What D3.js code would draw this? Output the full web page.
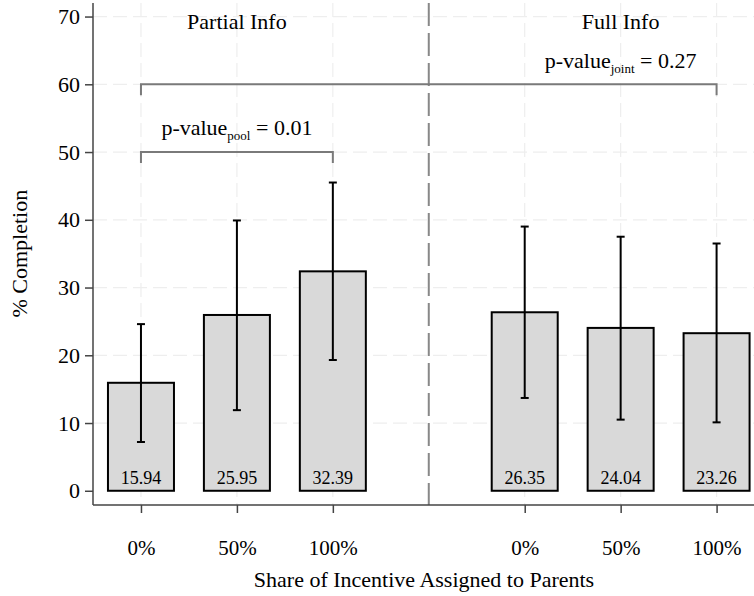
<!DOCTYPE html>
<html lang="en">
<head>
<meta charset="UTF-8">
<title>% Completion by incentive share</title>
<script src="https://cdn.jsdelivr.net/npm/d3@7"></script>
<style>
  body { margin: 0; background: #fff; }
  text { font-family: "Liberation Serif", "Times New Roman", serif; fill: #000; }
</style>
</head>
<body>
<svg width="754" height="596" id="mainsvg"></svg>
<script>
  // data
  const groups = ['Partial Info', 'Full Info'];
  const shares = ['0%', '50%', '100%', '0%', '50%', '100%'];
  const slots = [1, 2, 3, 5, 6, 7];
  const means = [15.94, 25.95, 32.39, 26.35, 24.04, 23.26];
  const lows = [7.2, 11.9, 19.3, 13.7, 10.5, 10.1];
  const highs = [24.6, 39.9, 45.5, 39.0, 37.5, 36.5];
  const yTicks = [0, 10, 20, 30, 40, 50, 60, 70];

  const svg = d3.select('#mainsvg');
  const width = +svg.attr('width');
  const height = +svg.attr('height');
  const margin = { top: 3, right: 0, bottom: 91, left: 93 };
  const innerWidth = width - margin.left - margin.right;
  const innerHeight = height - margin.top - margin.bottom;

  const xScale = d3.scaleLinear().domain([0.5, 7.39]).range([0, innerWidth]);
  const yScale = d3.scaleLinear().domain([-2.1, 72]).range([innerHeight, 0]);

  const g = svg.append('g')
    .attr('transform', `translate(${margin.left},${margin.top})`);

  // grid
  g.append('g').selectAll('line').data(yTicks.slice(1)).join('line')
    .attr('x1', 0).attr('x2', innerWidth)
    .attr('y1', d => yScale(d)).attr('y2', d => yScale(d))
    .attr('stroke', '#eeeeee').attr('stroke-width', 1.2)
    .attr('stroke-dasharray', '14,6');
  g.append('g').selectAll('line').data(slots).join('line')
    .attr('x1', d => xScale(d)).attr('x2', d => xScale(d))
    .attr('y1', 0).attr('y2', innerHeight)
    .attr('stroke', '#eeeeee').attr('stroke-width', 1.2)
    .attr('stroke-dasharray', '14,6');

  // divider between groups
  g.append('line')
    .attr('x1', xScale(4)).attr('x2', xScale(4))
    .attr('y1', 0).attr('y2', innerHeight)
    .attr('stroke', '#888').attr('stroke-width', 2)
    .attr('stroke-dasharray', '23,7');

  // bars
  const barW = 66;
  g.append('g').selectAll('rect').data(means).join('rect')
    .attr('x', (d, i) => xScale(slots[i]) - barW / 2)
    .attr('y', d => yScale(d))
    .attr('width', barW)
    .attr('height', d => yScale(0) - yScale(d))
    .attr('fill', '#d9d9d9')
    .attr('stroke', '#000')
    .attr('stroke-width', 2);

  // error bars
  const eb = g.append('g').attr('stroke', '#000').attr('stroke-width', 2);
  slots.forEach((s, i) => {
    const x = xScale(s);
    eb.append('line').attr('x1', x).attr('x2', x)
      .attr('y1', yScale(lows[i])).attr('y2', yScale(highs[i]));
    [lows[i], highs[i]].forEach(v => {
      eb.append('line').attr('x1', x - 4).attr('x2', x + 4)
        .attr('y1', yScale(v)).attr('y2', yScale(v));
    });
  });

  // value labels
  g.append('g').selectAll('text').data(means).join('text')
    .attr('x', (d, i) => xScale(slots[i]))
    .attr('y', yScale(0) - 6.5)
    .attr('text-anchor', 'middle')
    .attr('font-size', 18)
    .text(d => d.toFixed(2));

  // axes
  const yAxis = d3.axisLeft(yScale).tickValues(yTicks).tickSize(8).tickPadding(5);
  const ya = g.append('g').call(yAxis);
  ya.select('.domain').attr('d', `M0,0V${innerHeight}`).attr('stroke', '#444').attr('stroke-width', 1.5);
  ya.selectAll('.tick line').attr('stroke', '#444').attr('stroke-width', 1.5);
  ya.selectAll('.tick text').attr('font-size', 22);

  const xAxis = d3.axisBottom(xScale).tickValues(slots)
    .tickFormat((d, i) => shares[i]).tickSize(8).tickPadding(27);
  const xa = g.append('g').attr('transform', `translate(0,${innerHeight})`).call(xAxis);
  xa.select('.domain').attr('d', `M0,0H${innerWidth}`).attr('stroke', '#444').attr('stroke-width', 1.5);
  xa.selectAll('.tick line').attr('stroke', '#444').attr('stroke-width', 1.5);
  xa.selectAll('.tick text').attr('font-size', 21);

  // brackets
  const bracket = (x1, x2, y, drop) => {
    g.append('path')
      .attr('d', `M${xScale(x1)},${yScale(y - drop)}V${yScale(y)}H${xScale(x2)}V${yScale(y - drop)}`)
      .attr('fill', 'none').attr('stroke', '#7a7a7a').attr('stroke-width', 2);
  };
  bracket(1, 7, 60, 1.6);
  bracket(1, 3, 50, 1.6);

  // group titles
  g.selectAll('.grp').data(groups).join('text')
    .attr('class', 'grp')
    .attr('x', (d, i) => xScale(i === 0 ? 2 : 6))
    .attr('y', yScale(68.2))
    .attr('text-anchor', 'middle')
    .attr('font-size', 22)
    .text(d => d);

  const pText = (x, y, sub, val) => {
    const t = g.append('text').attr('x', xScale(x)).attr('y', yScale(y))
      .attr('text-anchor', 'middle').attr('font-size', 22);
    t.append('tspan').text('p-value');
    t.append('tspan').attr('font-size', 13).attr('dy', 5).text(sub);
    t.append('tspan').attr('dy', -5).text(' = ' + val);
  };
  pText(2, 52.5, 'pool', '0.01');
  pText(6, 62.4, 'joint', '0.27');

  // axis titles
  svg.append('text')
    .attr('transform', `translate(27,${margin.top + yScale(35)}) rotate(-90)`)
    .attr('text-anchor', 'middle')
    .attr('font-size', 22)
    .text('% Completion');
  svg.append('text')
    .attr('x', 424).attr('y', 587)
    .attr('text-anchor', 'middle')
    .attr('font-size', 22)
    .text('Share of Incentive Assigned to Parents');
</script>
</body>
</html>
